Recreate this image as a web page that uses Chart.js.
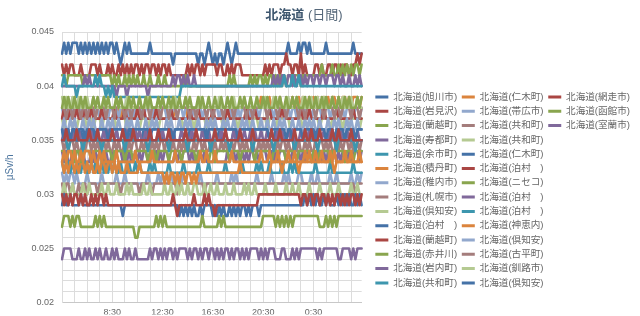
<!DOCTYPE html>
<html>
<head>
<meta charset="utf-8">
<script src="https://cdn.jsdelivr.net/npm/chart.js@4.4.1/dist/chart.umd.min.js"></script>
<style>
  html, body { margin: 0; padding: 0; background: #fff; }
  #wrap { width: 640px; height: 316px; position: relative; }
</style>
</head>
<body>
<div id="wrap"><canvas id="chart"></canvas></div>
<script>
// Monitoring posts, in legend order
const stations = [
  '北海道(旭川市)', '北海道(岩見沢)', '北海道(蘭越町)', '北海道(寿都町)', '北海道(余市町)',
  '北海道(積丹町)', '北海道(稚内市)', '北海道(札幌市)', '北海道(倶知安)', '北海道(泊村　)',
  '北海道(蘭越町)', '北海道(赤井川)', '北海道(岩内町)', '北海道(共和町)', '北海道(仁木町)',
  '北海道(帯広市)', '北海道(共和町)', '北海道(共和町)', '北海道(仁木町)', '北海道(泊村　)',
  '北海道(ニセコ)', '北海道(泊村　)', '北海道(泊村　)', '北海道(神恵内)', '北海道(倶知安)',
  '北海道(古平町)', '北海道(釧路市)', '北海道(倶知安)', '北海道(網走市)', '北海道(函館市)',
  '北海道(室蘭市)'
];

const palette = ['#4572A7', '#AA4643', '#89A54E', '#80699B', '#3D96AE', '#DB843D', '#92A8CD', '#A47D7C', '#B5CA92'];

// Air dose rate in nSv/h, one reading every 10 minutes starting 4:30
const asahikawa = [
  43,44,43,44,43,44, 44,44,43,44,43,44, 43,44,43,44,43,44, 43,44,43,44,43,44,
  44,43,44,43,42,43, 44,43,44,43,43,43, 43,43,43,43,43,43, 44,43,43,43,43,43,
  43,43,43,43,43,42, 43,43,43,43,43,43, 43,43,43,43,43,42, 43,43,42,43,44,43,
  42,43,42,43,43,42, 43,44,43,42,43,44, 43,43,43,43,43,43, 43,43,43,43,43,43,
  43,43,43,43,43,43, 43,43,43,43,43,43, 44,43,43,43,43,44, 43,44,44,43,44,43,
  43,43,43,43,43,43, 44,43,43,43,43,43, 43,43,43,43,43,43, 43,44,43,43,43,43
];
const iwamizawa = [
  42,41,42,41,42,42, 41,41,41,42,41,41, 41,41,42,42,42,41, 42,41,41,41,42,41,
  42,41,41,42,41,42, 41,42,41,42,41,42, 42,41,42,41,42,42, 41,42,42,41,42,41,
  42,42,41,42,41,41, 41,41,41,41,41,41, 42,41,42,41,42,42, 41,42,41,42,42,42,
  42,42,41,42,42,41, 41,42,41,42,41,42, 42,42,41,41,41,41, 41,41,41,41,41,41,
  41,42,41,42,41,42, 42,42,41,42,42,43, 42,42,41,42,42,41, 43,41,42,41,41,41,
  41,42,42,41,42,41, 41,42,42,41,42,42, 41,42,41,42,42,41, 41,42,42,43,42,43
];
const rankoshi1 = [
  41,41,40,41,41,41, 41,41,41,41,40,41, 41,41,41,41,41,40, 41,41,41,41,41,41,
  40,41,40,41,40,40, 41,40,41,40,41,40, 41,40,40,41,40,40, 41,40,40,40,41,40,
  40,41,40,40,40,40, 40,40,40,40,40,41, 40,40,40,40,40,40, 40,40,40,40,40,40,
  40,40,40,40,40,40, 40,40,41,40,41,40, 40,40,40,40,40,40, 41,40,41,40,41,41,
  40,41,40,41,41,40, 41,40,41,40,41,40, 41,41,41,41,41,41, 40,41,41,41,41,41,
  41,41,41,41,42,41, 41,41,41,42,41,41, 42,41,42,41,42,41, 42,41,42,42,41,42
];
const suttsu = [
  40,40,40,40,40,40, 40,40,40,40,40,41, 40,41,40,40,40,40, 40,40,40,40,40,40,
  40,40,39,40,40,40, 40,39,40,40,40,40, 40,40,40,40,40,39, 40,40,40,40,40,40,
  40,40,40,40,40,41, 40,41,41,40,41,40, 41,40,40,41,40,40, 40,40,40,40,40,40,
  40,40,40,40,40,40, 40,40,40,40,40,40, 40,40,40,40,40,40, 40,40,40,40,40,40,
  40,40,40,40,40,41, 40,41,40,41,41,40, 41,41,40,41,40,41, 41,40,41,40,41,41,
  40,41,41,40,41,41, 40,41,41,41,40,41, 41,40,41,40,40,41, 40,40,41,40,41,40
];
const yoichi = [
  40,41,40,40,40,40, 40,39,40,40,40,40, 40,40,40,40,41,40, 41,40,40,39,40,39,
  40,39,39,39,39,39, 39,39,39,39,39,39, 39,39,39,39,39,39, 39,39,39,39,39,39,
  39,39,39,39,39,39, 39,39,39,40,40,40, 40,40,40,40,40,40, 40,40,40,40,40,40,
  40,40,40,40,40,40, 40,40,40,40,40,40, 40,40,40,40,40,40, 40,40,40,40,40,40,
  40,40,40,40,40,40, 40,40,40,40,41,40, 40,40,41,40,40,41, 40,40,40,40,40,40,
  40,40,40,40,40,40, 40,40,40,40,40,40, 40,40,40,40,40,40, 40,40,40,40,40,40
];
const shakotan = [
  38,38,38,37,38,38, 38,38,38,38,37,38, 38,38,38,38,38,38, 37,38,38,38,38,38,
  38,38,38,38,37,38, 38,38,38,38,38,38, 38,38,37,38,38,38, 38,38,38,38,38,38,
  38,38,38,38,38,37, 38,38,38,38,38,38, 37,38,38,38,38,38, 38,38,38,38,38,38,
  38,38,38,38,38,38, 38,38,38,38,38,38, 38,38,38,38,38,38, 38,38,38,38,38,39,
  38,38,38,39,38,38, 38,38,39,38,38,38, 38,38,39,38,38,39, 38,39,38,38,39,38,
  39,38,39,38,38,39, 38,39,38,39,39,38, 39,38,39,39,38,39, 38,39,39,39,38,39
];
const wakkanai = [
  32,31,32,31,32,32, 31,32,31,31,31,31, 32,31,31,31,31,31, 31,32,31,31,31,31,
  31,31,32,31,31,31, 32,31,31,31,31,31, 31,31,31,31,31,32, 31,31,31,31,32,31,
  32,31,32,31,32,31, 31,31,32,31,32,31, 31,31,31,31,31,31, 32,31,31,31,31,31,
  31,31,32,31,31,31, 31,31,31,32,31,32, 31,31,31,31,31,31, 31,31,31,32,31,31,
  31,31,31,31,32,31, 31,31,31,31,32,31, 32,31,31,31,31,32, 32,31,31,31,31,32,
  31,31,32,31,31,31, 31,31,32,31,31,32, 31,31,31,31,31,31, 32,31,31,32,31,32
];
const sapporo = [
  31,30,31,31,30,31, 30,30,31,30,31,31, 30,31,31,31,31,30, 31,31,31,31,31,31,
  31,31,31,31,30,31, 31,31,31,31,31,31, 31,30,31,31,31,31, 31,30,31,31,31,31,
  31,31,31,31,31,31, 31,30,31,31,31,31, 31,31,31,31,31,31, 31,31,30,31,31,31,
  31,31,31,31,31,31, 31,31,31,31,31,31, 31,31,31,31,31,31, 31,31,31,31,31,31,
  31,31,31,31,31,31, 31,31,31,31,31,31, 31,31,31,31,31,31, 31,31,31,31,31,31,
  31,31,31,31,31,31, 31,31,31,31,31,31, 31,31,31,31,31,31, 31,31,30,31,31,31
];
const kutchan1 = [
  30,31,30,30,30,31, 30,30,30,30,31,30, 30,31,30,30,30,30, 30,31,30,30,31,30,
  30,30,31,30,30,30, 30,31,30,31,30,30, 30,30,30,31,30,30, 31,30,30,30,30,30,
  30,31,30,30,31,30, 30,31,30,31,30,30, 31,30,30,31,31,30, 30,30,31,30,30,31,
  30,30,31,30,30,30, 31,30,30,30,31,30, 30,30,30,31,30,31, 30,30,31,30,30,30,
  30,31,30,30,30,30, 31,30,30,30,30,31, 30,30,31,30,30,31, 30,30,30,30,31,30,
  30,30,30,31,30,30, 30,30,31,30,30,30, 31,30,30,30,30,30, 31,30,30,31,30,30
];
const tomari1 = [
  29,30,29,29,30,29, 29,29,29,30,29,29, 29,29,29,29,29,29, 29,29,29,29,29,29,
  29,29,29,29,29,28, 29,29,29,29,29,29, 29,29,29,29,29,29, 29,29,29,29,29,29,
  29,29,29,29,29,29, 29,29,28,29,28,29, 28,29,28,29,28,28, 29,28,29,29,29,29,
  28,29,28,29,28,29, 28,28,29,28,29,28, 29,28,29,29,28,29, 28,29,29,29,28,29,
  29,29,29,29,29,29, 29,29,29,29,29,29, 29,29,29,29,29,29, 29,29,30,29,30,29,
  30,29,30,29,29,30, 29,30,29,29,29,30, 29,30,29,30,29,30, 29,29,30,29,30,29
];
const rankoshi2 = [
  30,29,30,29,30,29, 30,30,29,30,29,30, 29,29,30,29,30,29, 30,30,29,30,29,29,
  29,29,29,29,29,29, 29,29,29,29,29,29, 29,29,29,29,29,29, 29,29,29,29,29,29,
  29,29,29,29,29,30, 29,28,29,29,29,29, 29,29,29,30,29,29, 29,29,30,29,30,29,
  29,28,29,29,29,29, 29,29,29,29,29,29, 29,29,29,29,29,29, 29,29,29,29,30,30,
  30,30,30,30,30,30, 30,30,30,30,30,30, 30,30,30,30,30,30, 29,30,30,29,30,30,
  29,30,30,29,30,30, 29,30,29,30,29,30, 30,29,30,29,30,29, 30,30,29,30,29,30
];
const akaigawa = [
  27,28,28,28,27,28, 27,28,28,27,27,27, 27,27,27,27,28,27, 28,27,28,27,27,27,
  27,27,27,27,27,27, 27,27,27,27,27,26, 26,27,27,27,27,27, 27,27,27,28,27,28,
  27,28,27,27,27,27, 27,27,27,27,27,27, 27,27,27,27,27,27, 27,28,27,27,27,27,
  27,27,27,28,27,28, 27,27,27,27,27,27, 27,27,27,27,27,27, 27,27,27,27,27,27,
  28,28,28,28,28,28, 27,28,27,28,27,28, 27,28,27,28,28,28, 28,28,28,28,28,28,
  28,28,28,27,27,27, 28,27,28,27,28,27, 28,28,28,28,28,28, 28,28,28,28,28,28
];
const iwanai = [
  34,33,34,33,33,34, 33,34,34,33,34,33, 33,33,34,33,34,33, 34,34,33,34,33,33,
  34,33,34,34,34,33, 34,33,34,33,33,34, 33,34,33,34,34,33, 33,34,33,34,33,34,
  33,34,34,33,33,33, 34,33,34,33,34,34, 34,33,34,33,33,33, 34,33,34,33,33,33,
  33,33,33,33,33,33, 33,34,33,34,34,33, 34,33,34,33,34,33, 34,34,33,34,33,34,
  34,34,33,34,34,33, 34,33,34,34,34,33, 34,33,34,34,33,34, 33,34,33,34,34,33,
  34,33,34,34,33,34, 33,34,34,34,34,33, 34,33,34,34,33,34, 33,34,34,34,33,34
];
const kyowa1 = [
  33,32,33,33,32,33, 32,32,33,32,33,33, 32,32,33,32,33,32, 32,33,32,33,32,33,
  32,33,32,32,33,32, 32,32,33,32,32,33, 32,33,32,32,32,32, 33,32,33,32,32,32,
  32,32,32,33,32,32, 32,32,32,32,33,32, 32,32,32,32,32,33, 32,32,32,32,33,32,
  32,32,32,32,32,32, 33,32,32,32,32,32, 32,32,33,32,32,32, 32,32,32,33,32,33,
  32,32,32,33,32,32, 32,32,32,33,32,32, 32,33,32,33,32,32, 32,32,32,32,32,32,
  32,33,32,32,32,32, 32,32,33,32,32,32, 32,32,32,32,32,32, 32,33,32,32,32,32
];
const niki1 = [
  33,32,33,32,33,33, 32,33,32,33,33,32, 33,32,33,32,32,33, 32,33,33,32,33,33,
  32,33,32,33,32,32, 32,33,32,32,32,32, 32,33,32,32,32,32, 32,32,32,32,32,32,
  32,31,32,31,32,32, 31,32,31,32,32,31, 32,32,31,32,31,32, 32,32,32,32,32,32,
  32,32,32,32,32,32, 32,32,32,32,32,32, 32,33,32,32,32,32, 32,32,32,32,32,32,
  32,32,32,32,33,33, 33,33,33,32,33,33, 33,33,33,33,33,32, 33,33,33,33,33,33,
  33,33,33,33,33,33, 33,33,33,33,32,33, 33,33,33,33,33,33, 33,33,33,33,33,33
];
const obihiro = [
  38,37,38,38,37,38, 37,38,38,38,37,38, 37,38,38,37,38,38, 37,38,38,38,37,38,
  38,37,38,37,38,38, 38,38,37,38,37,38, 38,37,38,37,38,38, 38,37,38,38,37,38,
  38,38,37,38,37,38, 38,37,38,38,37,38, 38,38,37,38,37,38, 38,37,38,37,38,38,
  37,38,38,37,38,37, 38,38,38,37,38,37, 38,37,38,38,37,38, 37,38,38,38,37,38,
  38,38,37,38,38,37, 38,37,38,38,37,38, 38,37,38,38,37,38, 38,37,38,38,38,37,
  38,37,38,38,37,38, 38,38,37,38,37,38, 38,37,38,37,38,38, 38,37,38,38,37,38
];
const kyowa2 = [
  35,34,35,34,35,35, 34,35,34,34,35,34, 35,35,34,35,34,35, 34,35,35,34,35,34,
  34,35,34,35,34,34, 35,34,35,34,35,35, 34,34,35,34,35,34, 34,35,34,35,34,35,
  35,34,35,35,34,35, 34,34,35,34,35,34, 35,34,34,35,34,35, 35,34,35,34,34,35,
  34,35,34,34,35,34, 35,34,34,35,34,35, 35,34,35,34,35,34, 34,35,34,34,35,34,
  35,34,35,34,35,34, 34,35,34,35,35,34, 35,34,34,35,34,35, 34,34,35,34,35,34,
  34,35,34,35,35,34, 35,34,35,34,34,35, 34,35,34,35,35,34, 35,34,34,35,34,35
];
const kyowa3 = [
  37,36,37,37,37,36, 37,36,37,37,37,37, 36,37,37,36,37,37, 37,36,37,37,37,37,
  37,37,36,37,37,37, 37,36,37,37,37,37, 37,36,37,37,37,36, 37,37,37,37,36,37,
  37,37,37,36,37,37, 37,37,37,37,36,37, 37,37,37,36,37,37, 37,37,37,36,37,37,
  36,37,37,37,37,36, 37,37,37,37,37,37, 36,37,37,37,37,37, 36,37,37,37,36,37,
  37,37,36,37,37,37, 36,37,37,37,37,37, 37,36,37,37,37,37, 37,36,37,37,37,36,
  37,37,37,36,37,37, 37,37,36,37,37,37, 37,37,36,37,37,36, 37,37,37,37,36,37
];
const niki2 = [
  36,35,36,35,35,35, 36,35,35,36,35,36, 35,35,35,35,36,35, 35,35,36,35,35,35,
  35,35,36,35,35,35, 35,35,35,36,35,35, 35,35,35,36,35,36, 35,35,35,35,35,36,
  35,35,35,35,35,36, 35,35,35,35,35,35, 35,36,35,35,35,35, 35,35,35,36,35,35,
  35,35,35,36,35,35, 35,35,35,35,36,35, 35,35,35,35,35,35, 35,36,35,35,35,35,
  35,35,35,35,35,35, 36,35,36,35,35,35, 35,35,36,35,35,35, 35,35,35,35,36,35,
  35,36,35,35,35,35, 35,35,35,36,35,35, 35,35,35,35,36,35, 35,35,35,35,35,35
];
const tomari2 = [
  37,38,37,37,38,37, 37,38,37,37,37,38, 37,37,38,37,37,37, 37,38,37,37,37,37,
  37,38,37,37,37,37, 38,37,37,37,37,37, 38,37,37,38,37,37, 37,37,37,38,37,37,
  37,37,37,37,38,37, 37,37,37,37,37,37, 37,38,37,37,37,38, 37,37,37,37,37,37,
  38,37,37,37,37,37, 37,38,37,37,37,37, 37,37,37,37,38,37, 37,37,38,37,37,37,
  37,37,37,38,37,37, 37,37,37,38,37,37, 37,37,37,37,37,37, 38,37,37,37,38,37,
  37,37,37,37,37,38, 37,37,37,37,37,38, 37,37,37,37,37,37, 37,38,37,37,37,37
];
const niseko = [
  34,34,33,34,34,34, 33,34,34,33,34,34, 34,34,33,34,34,34, 34,33,34,34,34,34,
  33,34,34,34,34,34, 33,34,34,34,33,34, 34,34,34,34,34,33, 34,34,34,33,34,34,
  34,34,34,33,34,34, 34,34,34,33,34,34, 34,34,34,34,33,34, 34,34,34,34,33,34,
  34,33,34,34,34,34, 34,34,33,34,34,34, 34,33,34,34,34,34, 34,34,33,34,34,34,
  34,34,34,34,33,34, 34,34,34,34,34,33, 34,34,34,34,33,34, 34,34,34,34,34,33,
  34,34,33,34,34,34, 34,34,33,34,34,34, 34,34,34,33,34,34, 34,33,34,34,34,34
];
const tomari3 = [
  35,36,35,36,35,35, 36,35,36,35,35,35, 36,35,36,35,35,36, 35,35,36,35,36,35,
  35,35,36,35,35,36, 35,36,35,35,35,36, 35,36,35,35,36,35, 36,35,35,35,36,35,
  36,35,35,36,35,36, 35,35,35,36,35,36, 35,35,36,35,36,35, 35,36,35,35,36,35,
  35,36,35,35,36,35, 36,35,35,35,36,35, 36,35,35,36,35,35, 36,35,36,35,35,36,
  35,35,36,35,36,35, 35,36,35,36,35,35, 36,35,36,35,35,35, 36,35,36,35,36,35,
  36,35,35,36,35,36, 35,35,36,35,35,36, 35,36,35,35,36,35, 35,36,35,36,35,35
];
const tomari4 = [
  35,35,35,34,35,35, 35,35,35,35,34,35, 35,35,35,35,35,35, 35,34,35,35,35,35,
  35,35,35,35,35,35, 34,35,35,35,35,35, 35,35,35,35,35,34, 35,35,35,35,35,35,
  35,35,35,34,35,35, 35,35,35,35,35,35, 34,35,35,35,35,35, 35,35,35,35,35,34,
  35,35,35,35,35,35, 35,35,34,35,35,35, 35,35,35,35,35,35, 35,34,35,35,35,35,
  35,35,35,35,35,34, 35,35,35,35,35,35, 35,35,35,34,35,35, 35,35,35,35,35,35,
  35,35,34,35,35,35, 35,35,35,35,35,34, 35,35,35,35,35,35, 35,35,34,35,35,35
];
const kamoenai = [
  33,34,33,34,34,33, 34,33,33,34,33,34, 34,34,33,34,33,33, 34,33,34,33,33,33,
  33,33,34,33,33,33, 33,33,33,33,33,34, 33,33,33,33,33,33, 33,34,33,33,33,33,
  33,33,33,33,33,33, 34,33,33,33,33,33, 33,33,33,33,33,33, 34,33,33,34,33,33,
  33,34,33,33,33,33, 33,33,33,34,33,33, 33,33,33,33,33,33, 33,33,33,33,33,34,
  33,33,33,34,33,33, 33,34,33,33,33,33, 34,33,33,34,33,33, 33,33,34,33,34,33,
  33,34,33,33,34,33, 33,33,34,33,34,33, 33,33,33,34,33,33, 34,33,33,33,34,33
];
const kutchan2 = [
  36,37,36,36,37,36, 37,36,36,36,37,36, 36,37,36,37,36,36, 36,37,36,36,37,36,
  37,36,36,37,36,36, 36,37,36,37,36,36, 37,36,36,36,37,36, 36,37,36,37,36,36,
  36,36,37,36,37,36, 36,36,37,36,36,37, 36,37,36,36,36,37, 36,36,36,37,36,37,
  36,37,36,36,36,37, 36,37,36,36,37,36, 36,36,37,36,37,36, 36,37,36,36,36,37,
  36,36,37,36,36,37, 36,36,37,36,37,36, 36,36,37,36,36,37, 36,36,37,36,37,36,
  37,36,36,37,36,36, 36,37,36,36,37,36, 37,36,36,36,37,36, 37,36,36,37,36,36
];
const furubira = [
  38,38,37,38,38,37, 38,38,38,37,38,38, 37,38,38,38,37,38, 38,38,38,37,38,38,
  38,37,38,38,38,38, 37,38,38,37,38,38, 38,38,37,38,38,38, 37,38,38,38,38,37,
  38,38,38,37,38,38, 38,37,38,38,38,38, 38,37,38,38,37,38, 38,38,38,37,38,38,
  37,38,38,38,38,37, 38,38,38,38,37,38, 38,38,38,38,37,38, 38,37,38,38,38,38,
  38,38,37,38,38,38, 38,37,38,38,38,37, 38,38,38,38,38,37, 38,38,37,38,38,38,
  38,37,38,38,38,37, 38,38,38,38,37,38, 38,37,38,38,38,38, 37,38,38,38,37,38
];
const kushiro = [
  39,38,39,38,38,39, 38,38,39,38,38,38, 39,38,38,39,38,38, 38,38,39,38,38,38,
  38,38,39,38,38,38, 38,39,38,38,38,38, 38,39,38,38,38,39, 38,38,38,38,38,38,
  39,38,38,38,38,38, 39,38,38,38,38,39, 38,38,38,38,38,38, 39,38,38,38,38,38,
  38,38,38,39,38,38, 38,38,38,38,39,38, 38,38,38,39,38,38, 38,38,38,39,38,38,
  38,39,38,38,38,39, 38,38,39,38,38,38, 39,38,38,38,39,38, 38,39,38,38,38,39,
  38,38,39,38,38,39, 38,38,38,39,38,38, 39,38,39,38,38,38, 39,38,38,39,38,38
];
const kutchan3 = [
  36,35,36,36,35,36, 36,35,36,36,36,35, 36,36,36,36,35,36, 36,36,36,36,35,36,
  36,36,36,36,36,36, 36,35,36,36,36,36, 36,36,36,36,36,36, 35,36,36,36,36,36,
  36,36,36,36,36,35, 36,36,36,36,36,36, 36,36,36,36,36,36, 36,36,36,35,36,36,
  36,36,36,36,36,36, 36,36,36,36,36,36, 35,36,36,36,36,36, 36,36,36,36,36,36,
  36,36,36,35,36,36, 36,36,36,36,36,35, 36,36,35,36,36,36, 36,35,36,36,36,36,
  36,35,36,36,36,36, 35,36,36,36,35,36, 36,36,36,35,36,36, 36,36,35,36,36,36
];
const abashiri = [
  35,35,36,35,35,35, 35,36,35,35,35,35, 35,36,35,35,35,36, 35,35,35,35,35,35,
  36,35,35,35,35,36, 35,35,35,35,36,35, 35,35,35,35,35,35, 36,35,35,35,36,35,
  35,35,35,36,35,35, 35,35,35,35,35,36, 35,35,35,35,36,35, 35,35,35,35,35,35,
  35,36,35,35,35,35, 36,35,35,35,35,35, 35,36,35,35,35,35, 35,36,35,35,35,35,
  35,35,35,35,36,35, 35,35,36,35,35,35, 35,35,35,36,35,35, 35,35,36,35,35,36,
  35,35,35,36,35,35, 35,35,35,36,35,35, 36,35,35,35,35,35, 36,35,35,35,35,35
];
const hakodate = [
  38,39,38,39,38,38, 39,38,38,39,38,39, 38,38,38,39,38,39, 38,38,39,38,39,38,
  38,38,39,38,39,38, 38,38,39,38,39,38, 38,39,38,38,39,38, 39,38,38,38,39,38,
  39,38,38,39,38,39, 38,38,39,38,38,39, 38,39,38,38,38,39, 38,39,38,38,39,38,
  38,39,38,38,39,38, 38,39,38,39,38,38, 38,39,38,39,38,38, 39,38,38,39,38,38,
  39,38,39,38,38,38, 39,38,39,38,38,39, 38,38,39,38,39,38, 38,38,39,38,39,38,
  38,39,38,38,39,38, 39,38,38,39,38,38, 39,38,38,39,38,39, 38,38,38,39,38,39
];
const muroran = [
  24,25,25,25,25,24, 24,24,25,24,24,25, 24,25,24,24,25,24, 25,24,24,25,24,24,
  25,24,25,24,24,24, 25,24,25,24,24,25, 24,24,24,24,24,24, 25,24,25,25,24,25,
  24,25,24,25,25,24, 25,24,25,25,25,25, 24,25,24,25,25,24, 25,24,25,25,24,25,
  25,24,25,24,25,24, 25,25,24,25,24,25, 25,24,25,24,25,24, 25,25,25,25,24,25,
  24,25,24,25,25,25, 24,24,24,25,25,24, 24,24,25,24,25,24, 25,25,25,25,25,25,
  25,25,24,25,24,25, 25,25,25,25,25,25, 24,24,25,25,25,25, 24,25,24,25,25,25
];

const seriesValues = [
  asahikawa, iwamizawa, rankoshi1, suttsu, yoichi, shakotan, wakkanai, sapporo,
  kutchan1, tomari1, rankoshi2, akaigawa, iwanai, kyowa1, niki1, obihiro,
  kyowa2, kyowa3, niki2, tomari2, niseko, tomari3, tomari4, kamoenai,
  kutchan2, furubira, kushiro, kutchan3, abashiri, hakodate, muroran
];

// Time axis: 10-minute steps from 4:30
const startMinutes = 4 * 60 + 30;
const stepMinutes = 10;
const timeLabels = asahikawa.map((_, k) => {
  const t = (startMinutes + k * stepMinutes) % 1440;
  return Math.floor(t / 60) + ':' + String(t % 60).padStart(2, '0');
});
const shownTimeLabels = ['8:30', '12:30', '16:30', '20:30', '0:30'];
const yTickLabels = ['0.02', '0.025', '0.03', '0.035', '0.04', '0.045'];

const titleMain = '北海道';
const titleSub = ' (日間)';

const FONT = '"Liberation Sans", "Noto Sans CJK JP", sans-serif';
const GRID = '#dcdcdc';

// Title with a bold place name and a regular period suffix
const splitTitle = {
  id: 'splitTitle',
  afterDraw(chart) {
    const ctx = chart.ctx;
    ctx.save();
    const boldFont = 'bold 13px ' + FONT;
    const normalFont = '13px ' + FONT;
    ctx.font = boldFont;
    const w1 = ctx.measureText(titleMain).width;
    ctx.font = normalFont;
    const w2 = ctx.measureText(titleSub).width;
    let x = 304 - (w1 + w2) / 2;
    ctx.textBaseline = 'middle';
    ctx.fillStyle = '#3E576F';
    ctx.font = boldFont;
    ctx.fillText(titleMain, x, 15);
    ctx.font = normalFont;
    ctx.fillStyle = '#56687a';
    ctx.fillText(titleSub, x + w1, 15);
    ctx.restore();
  }
};

new Chart(document.getElementById('chart'), {
  type: 'line',
  data: {
    labels: timeLabels,
    datasets: seriesValues.map((vals, i) => ({
      label: stations[i],
      data: vals.map(v => v / 1000),
      borderColor: palette[i % palette.length],
      backgroundColor: palette[i % palette.length],
      borderWidth: 2.6,
      borderJoinStyle: 'round',
      borderCapStyle: 'round',
      pointRadius: 0,
      tension: 0,
      fill: false,
      order: -i
    }))
  },
  options: {
    responsive: true,
    maintainAspectRatio: false,
    devicePixelRatio: 1,
    animation: false,
    events: [],
    layout: { padding: { top: 32, right: 0, bottom: 0, left: 0 } },
    scales: {
      x: {
        type: 'category',
        grid: {
          color: c => (c.index % 6 === 0 ? GRID : 'rgba(0,0,0,0)'),
          drawTicks: false
        },
        border: { color: '#c8c8c8' },
        ticks: {
          autoSkip: false,
          maxRotation: 0,
          padding: 5,
          color: '#666',
          font: { family: FONT, size: 9 },
          callback: (v, i) => (shownTimeLabels.includes(timeLabels[i]) ? timeLabels[i] : '')
        },
        afterFit: s => { s.height = 12; }
      },
      y: {
        min: 0.02,
        max: 0.045,
        grid: { color: GRID, drawTicks: false },
        border: { color: GRID },
        ticks: {
          stepSize: 0.001,
          maxTicksLimit: 40,
          autoSkip: false,
          padding: 8,
          color: '#666',
          font: { family: FONT, size: 9 },
          callback: v => {
            const t = String(+Number(v).toFixed(3));
            return yTickLabels.includes(t) ? t : '';
          }
        },
        title: {
          display: true,
          text: 'μSv/h',
          color: '#4d759e',
          font: { family: FONT, size: 10 },
          padding: { top: 4, bottom: 0 }
        },
        afterFit: s => { s.width = 62; }
      },
      spacer: {
        type: 'linear',
        position: 'right',
        display: true,
        grid: { display: false },
        border: { display: false },
        ticks: { display: false },
        afterFit: s => { s.width = 9; }
      }
    },
    plugins: {
      title: { display: false },
      tooltip: { enabled: false },
      legend: {
        position: 'right',
        align: 'start',
        fullSize: false,
        maxWidth: 320,
        title: {
          display: true,
          text: ' ',
          font: { size: 10, lineHeight: 1 },
          padding: { top: 45.5, bottom: 0 }
        },
        labels: {
          boxWidth: 13,
          boxHeight: 3,
          padding: 4.7,
          color: '#666',
          font: { family: FONT, size: 9.6 },
          sort: (a, b) => a.datasetIndex - b.datasetIndex,
          generateLabels: chart =>
            Chart.defaults.plugins.legend.labels.generateLabels(chart).map(item =>
              Object.assign(item, { lineWidth: 0 }))
        }
      }
    }
  },
  plugins: [splitTitle]
});
</script>
</body>
</html>
